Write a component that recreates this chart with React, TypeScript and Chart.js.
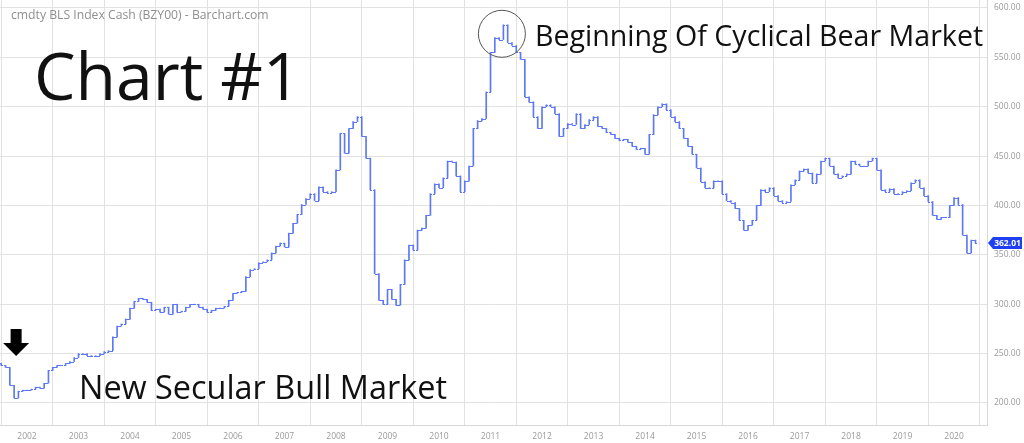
import React, { useEffect, useRef } from "react";
import { Chart, registerables } from "chart.js";

Chart.register(...registerables);

// Monthly closes, July 2001 .. June 2020
const firstYear = 2001;
const firstMonth = 6; // July (0-based)
const firstOpen = 240;
const closes2001 = [238, 236, 218, 205, 212, 213];
const closes2002 = [213, 214, 216, 215, 220, 233, 236, 238, 238, 240, 242, 246];
const closes2003 = [250, 250, 248, 248, 248, 250, 252, 253, 267, 278, 280, 285];
const closes2004 = [296, 303, 306, 305, 302, 294, 295, 292, 297, 290, 300, 292];
const closes2005 = [293, 297, 300, 300, 297, 295, 292, 294, 296, 296, 298, 304];
const closes2006 = [311, 312, 313, 328, 335, 336, 342, 343, 345, 352, 359, 362];
const closes2007 = [358, 372, 382, 391, 401, 407, 412, 405, 419, 414, 413, 414];
const closes2008 = [436, 473, 453, 478, 485, 490, 470, 448, 416, 331, 304, 300];
const closes2009 = [315, 305, 299, 320, 345, 360, 355, 375, 377, 390, 412, 422];
const closes2010 = [418, 428, 445, 444, 430, 414, 425, 440, 478, 486, 488, 515];
const closes2011 = [555, 570, 568, 583, 565, 562, 555, 548, 510, 505, 490, 478];
const closes2012 = [500, 502, 500, 493, 470, 478, 483, 482, 493, 478, 482, 487];
const closes2013 = [490, 480, 478, 474, 472, 468, 466, 467, 464, 460, 457, 458];
const closes2014 = [452, 472, 492, 500, 503, 497, 490, 485, 478, 468, 460, 452];
const closes2015 = [438, 424, 418, 418, 425, 425, 412, 405, 403, 397, 385, 375];
const closes2016 = [380, 385, 400, 416, 414, 418, 410, 405, 403, 404, 421, 426];
const closes2017 = [435, 437, 433, 423, 432, 445, 448, 440, 432, 428, 430, 432];
const closes2018 = [445, 442, 440, 440, 445, 448, 436, 416, 414, 417, 412, 412];
const closes2019 = [414, 415, 423, 426, 418, 410, 404, 390, 386, 388, 388, 400];
const closes2020 = [408, 401, 370, 352, 365, 362.01];

const allCloses = [
  ...closes2001, ...closes2002, ...closes2003, ...closes2004, ...closes2005,
  ...closes2006, ...closes2007, ...closes2008, ...closes2009, ...closes2010,
  ...closes2011, ...closes2012, ...closes2013, ...closes2014, ...closes2015,
  ...closes2016, ...closes2017, ...closes2018, ...closes2019, ...closes2020,
];

const yTicks = [200, 250, 300, 350, 400, 450, 500, 550, 600];
const xTicks = [2002, 2003, 2004, 2005, 2006, 2007, 2008, 2009, 2010, 2011, 2012, 2013, 2014, 2015, 2016, 2017, 2018, 2019, 2020];

const titleText = "cmdty BLS Index Cash (BZY00) - Barchart.com";
const chartLabel = "Chart #1";
const bearText = "Beginning Of Cyclical Bear Market";
const bullText = "New Secular Bull Market";
const peakYear = 2011 + 3 / 12;
const peakValue = 583;
const bottomYear = 2001 + 9 / 12;
const bottomValue = 205;

const barColor = "rgb(92,120,246)";

type OHLC = { x: number; y: [number, number]; o: number; c: number };

const points: OHLC[] = allCloses.map((c, i) => {
  const o = i === 0 ? firstOpen : allCloses[i - 1];
  return { x: firstYear + (firstMonth + i) / 12, y: [Math.min(o, c), Math.max(o, c)], o, c };
});

const ohlcTicks = {
  id: "ohlcTicks",
  afterDatasetsDraw(chart: any) {
    const { ctx, scales } = chart;
    const xs = scales.x;
    const ys = scales.y;
    ctx.save();
    ctx.strokeStyle = barColor;
    ctx.lineWidth = 1;
    ctx.beginPath();
    points.forEach((p) => {
      const px = Math.round(xs.getPixelForValue(p.x));
      const oy = Math.round(ys.getPixelForValue(p.o)) + 0.5;
      const cy = Math.round(ys.getPixelForValue(p.c)) + 0.5;
      ctx.moveTo(px - 2, oy);
      ctx.lineTo(px, oy);
      ctx.moveTo(px, cy);
      ctx.lineTo(px + 2, cy);
    });
    ctx.stroke();
    ctx.restore();
  },
};

const annotations = {
  id: "annotations",
  afterDraw(chart: any) {
    const { ctx, scales, chartArea } = chart;
    const xs = scales.x;
    const ys = scales.y;
    ctx.save();
    // title
    ctx.fillStyle = "#8f8f8f";
    ctx.font = "12.2px 'Open Sans'";
    ctx.textBaseline = "alphabetic";
    ctx.textAlign = "left";
    ctx.fillText(titleText, 11, 19);
    // big label
    ctx.fillStyle = "#111";
    ctx.font = "66px 'Open Sans'";
    ctx.fillText(chartLabel, 34, 100);
    // bear text
    ctx.font = "28.6px 'Open Sans'";
    ctx.fillText(bearText, 535, 46);
    // bull text
    ctx.font = "32.4px 'Open Sans'";
    ctx.fillText(bullText, 79, 399);
    // circle around peak
    const cx = xs.getPixelForValue(peakYear);
    const cyy = ys.getPixelForValue(peakValue) + 9;
    ctx.strokeStyle = "#555";
    ctx.lineWidth = 1;
    ctx.beginPath();
    ctx.arc(cx - 1.5, cyy, 23.5, 0, Math.PI * 2);
    ctx.stroke();
    // arrow above bottom
    const ax = xs.getPixelForValue(bottomYear) + 2;
    const tipY = ys.getPixelForValue(bottomValue) - 42;
    ctx.fillStyle = "#000";
    ctx.beginPath();
    ctx.moveTo(ax - 5.5, tipY - 27);
    ctx.lineTo(ax + 5.5, tipY - 27);
    ctx.lineTo(ax + 5.5, tipY - 13);
    ctx.lineTo(ax + 13, tipY - 13);
    ctx.lineTo(ax, tipY);
    ctx.lineTo(ax - 13, tipY - 13);
    ctx.lineTo(ax - 5.5, tipY - 13);
    ctx.closePath();
    ctx.fill();
    // last price label
    const last = allCloses[allCloses.length - 1];
    const ly = ys.getPixelForValue(last);
    const left = chartArea.right + 1;
    ctx.fillStyle = "#1f3ff2";
    ctx.beginPath();
    ctx.moveTo(left, ly);
    ctx.lineTo(left + 5, ly - 6);
    ctx.lineTo(1022, ly - 6);
    ctx.lineTo(1022, ly + 6);
    ctx.lineTo(left + 5, ly + 6);
    ctx.closePath();
    ctx.fill();
    ctx.fillStyle = "#fff";
    ctx.font = "bold 8.5px 'Open Sans'";
    ctx.textAlign = "center";
    ctx.textBaseline = "middle";
    ctx.fillText(last.toFixed(2), (left + 5 + 1022) / 2, ly + 0.5);
    ctx.restore();
  },
};

const zeroPad = (s: any) => {
  s.paddingTop = 0;
  s.paddingBottom = 0;
  s.paddingLeft = 0;
  s.paddingRight = 0;
};

export default function App() {
  const ref = useRef<HTMLCanvasElement | null>(null);
  useEffect(() => {
    if (!ref.current) return;
    const chart = new Chart(ref.current, {
      type: "bar",
      data: {
        datasets: [
          {
            data: points as any,
            backgroundColor: barColor,
            borderWidth: 0,
            barThickness: 1,
          },
        ],
      },
      options: {
        responsive: false,
        animation: false,
        devicePixelRatio: 1,
        layout: { padding: 0, autoPadding: false },
        plugins: { legend: { display: false }, tooltip: { enabled: false } },
        scales: {
          x: {
            type: "linear",
            min: 2001.476,
            max: 2020.64,
            offset: false,
            afterBuildTicks: (s: any) => {
              s.ticks = xTicks.map((v) => ({ value: v }));
            },
            afterFit: (s: any) => {
              s.height = 18;
              zeroPad(s);
            },
            grid: { color: "#e2e2e2", drawTicks: false, lineWidth: 1 },
            border: { color: "#d8d8d8" },
            ticks: {
              padding: 6,
              color: "#9a9a9a",
              font: { family: "'Open Sans'", size: 8.5 },
              callback: (v: any) => String(v),
              maxRotation: 0,
              autoSkip: false,
            },
          },
          y: {
            type: "linear",
            position: "right",
            min: 177.7,
            max: 608.1,
            afterBuildTicks: (s: any) => {
              s.ticks = yTicks.map((v) => ({ value: v }));
            },
            afterFit: (s: any) => {
              s.width = 37;
              zeroPad(s);
            },
            grid: { color: "#e2e2e2", drawTicks: false, lineWidth: 1 },
            border: { color: "#d8d8d8" },
            ticks: {
              padding: 7,
              color: "#9a9a9a",
              font: { family: "'Open Sans'", size: 8.5 },
              callback: (v: any) => Number(v).toFixed(2),
            },
          },
        },
      },
      plugins: [ohlcTicks, annotations],
    });
    return () => chart.destroy();
  }, []);
  return (
    <div style={{ position: "fixed", left: 0, top: 0, width: 1024, height: 443, background: "#fff" }}>
      <canvas ref={ref} width={1024} height={443} />
    </div>
  );
}
